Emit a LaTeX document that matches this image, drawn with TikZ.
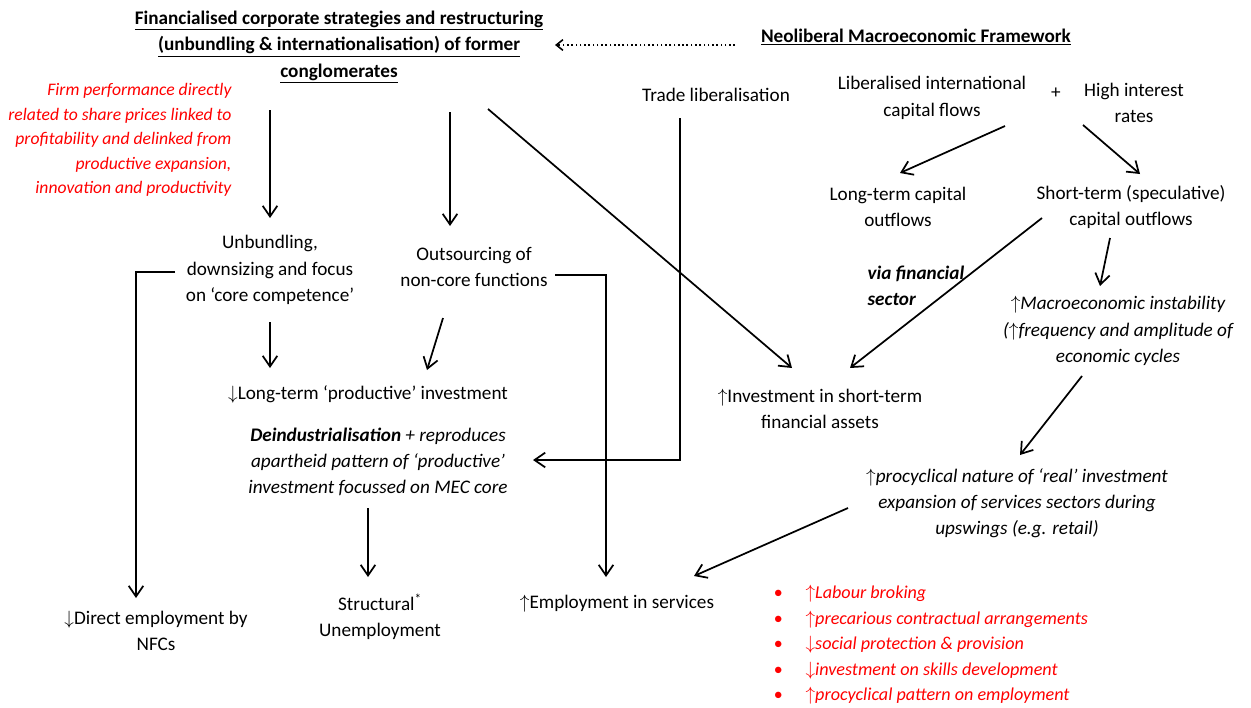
\documentclass[tikz,border=0pt]{standalone}
\usepackage{fontspec}
\setmainfont{Carlito}
\usepackage{tikz}
\usetikzlibrary{arrows.meta,calc}

\newcommand{\fsz}{\fontsize{14.4}{19.7}\selectfont}
\newcommand{\arrup}{\ensuremath{\uparrow}}
\newcommand{\arrdown}{\ensuremath{\downarrow}}

\tikzset{
  txt/.style={align=center, inner sep=1pt},
  hdr/.style={txt, font=\fsz\bfseries},
  redtxt/.style={txt, text=red, font=\fsz\itshape},
  ittxt/.style={txt, font=\fsz\itshape},
  arr/.style={line width=1.3pt, -{Straight Barb[length=8pt,width=11pt]}},
  dotarr/.style={line width=1.2pt, dotted, -{Straight Barb[length=5pt,width=8pt]}},
}

\begin{document}
\begin{tikzpicture}[x=0.75pt,y=0.75pt,yscale=-1,xscale=1,font=\fsz]
\useasboundingbox (0,0) rectangle (1251,707);

% headings
\node[hdr] (fin) at (339,47) {\underline{Financialised corporate strategies and restructuring}\\\underline{(unbundling \& internationalisation) of former}\\\underline{conglomerates}};
\node[hdr] (neo) at (916,37) {\underline{Neoliberal Macroeconomic Framework}};

% red note
\node[redtxt, align=right, anchor=east, font=\fontsize{13.2}{18.4}\selectfont\itshape] (firm) at (233,140) {Firm performance directly\\related to share prices linked to\\profitability and delinked from\\productive expansion,\\innovation and productivity};

% right column
\node[txt] (trade) at (716,95) {Trade liberalisation};
\node[txt] (lib) at (932,98) {Liberalised international\\capital flows};
\node[txt] (plus) at (1056,93) {+};
\node[txt] (high) at (1134,103) {High interest\\rates};
\node[txt] (ltc) at (898,207) {Long-term capital\\outflows};
\node[txt] (stc) at (1131,207) {Short-term (speculative)\\capital outflows};
\node[txt, font=\fsz\bfseries\itshape, align=left, anchor=west] (via) at (866,286) {via financial\\sector};
\node[ittxt] (macro) at (1118,331) {\arrup Macroeconomic instability\\(\arrup frequency and amplitude of\\economic cycles};
\node[txt] (inv) at (820,409) {\arrup Investment in short-term\\financial assets};
\node[ittxt] (pro) at (1017,503) {\arrup procyclical nature of ‘real’ investment\\expansion of services sectors during\\upswings (e.g. retail)};

% middle
\node[txt] (unb) at (270,270) {Unbundling,\\downsizing and focus\\on ‘core competence’};
\node[txt] (outs) at (474,267) {Outsourcing of\\non-core functions};
\node[txt] (lti) at (368,394) {\arrdown Long-term ‘productive’ investment};
\node[ittxt] (deind) at (378,462) {\textbf{Deindustrialisation} + reproduces\\apartheid pattern of ‘productive’\\investment focussed on MEC core};

% bottom
\node[txt] (dir) at (156,631) {\arrdown Direct employment by\\NFCs};
\node[txt] (struct) at (380,617) {Structural\textsuperscript{*}\\Unemployment};
\node[txt] (emp) at (617,604) {\arrup Employment in services};
\node[redtxt, align=left, anchor=west, font=\fontsize{13.6}{19.1}\selectfont\itshape] (effects) at (772,645) {\makebox[24pt][l]{\textbullet}\arrup Labour broking\\\makebox[24pt][l]{\textbullet}\arrup precarious contractual arrangements\\\makebox[24pt][l]{\textbullet}\arrdown social protection \& provision\\\makebox[24pt][l]{\textbullet}\arrdown investment on skills development\\\makebox[24pt][l]{\textbullet}\arrup procyclical pattern on employment};

% connectors
\draw[dotarr] ($(neo)+(-181,8)$) -- ($(fin)+(216,-2)$);
\draw[arr] ($(fin)+(-69,63)$) -- ($(unb)+(0,-52)$);
\draw[arr] ($(fin)+(111,65)$) -- ($(outs)+(-24,-41)$);
\draw[arr] ($(fin)+(149,62)$) -- ($(inv)+(-28,-41)$);
\draw[arr] ($(lib)+(73,28)$) -- ($(ltc)+(2,-34)$);
\draw[arr] ($(high)+(-51,22)$) -- ($(stc)+(9,-33)$);
\draw[arr] ($(stc)+(-89,11)$) -- ($(inv)+(30,-41)$);
\draw[arr] ($(stc)+(-21,31)$) -- ($(macro)+(-18,-45)$);
\draw[arr] ($(macro)+(-36,45)$) -- ($(pro)+(3,-48)$);
\draw[arr] ($(pro)+(-169,5)$) -- ($(emp)+(77,-28)$);
\draw[arr] ($(trade)+(-36,23)$) |- ($(deind)+(155,-2)$);
\draw[arr] ($(unb)+(0,52)$) -- ($(lti)+(-98,-26)$);
\draw[arr] ($(outs)+(-31,51)$) -- ($(lti)+(59,-24)$);
\draw[arr] ($(unb)+(-95,2)$) -| ($(dir)+(-20,-33)$);
\draw[arr] ($(outs)+(81,8)$) -| ($(emp)+(-11,-27)$);
\draw[arr] ($(deind)+(-10,46)$) -- ($(struct)+(-12,-40)$);

\end{tikzpicture}
\end{document}
